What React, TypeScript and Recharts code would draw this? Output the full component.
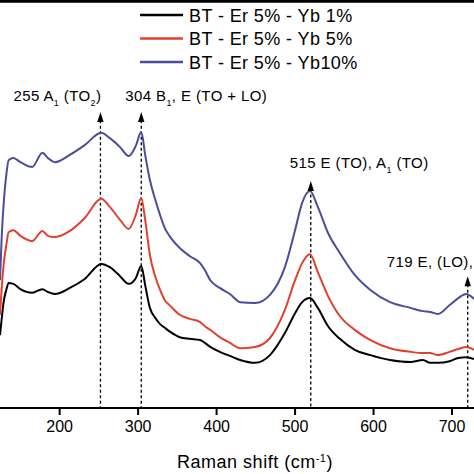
import { LineChart, Line, XAxis, YAxis, ReferenceLine, ReferenceDot, Legend } from 'recharts'

// Raman shift (cm-1), shared by all three spectra
const shifts = [
  124, 126, 129, 132, 135, 141, 150, 165, 178, 185, 194, 213, 232, 253, 264, 277, 288, 297, 304, 309,
  315, 322, 328, 334, 341, 353, 366, 379, 385, 392, 404, 417, 430, 449, 468, 487, 500, 509, 519, 529,
  542, 557, 576, 596, 621, 647, 663, 672, 682, 697, 708, 718, 728,
]

// intensity (a.u., offset stacked)
const yb1 = [
  17.9, 21.6, 26.5, 29.0, 30.7, 30.5, 29.2, 28.3, 29.2, 28.5, 28.0, 29.5, 31.7, 35.4, 34.6, 32.4, 30.5,
  31.9, 34.9, 30.2, 24.6, 22.1, 20.6, 19.7, 18.7, 17.4, 17.0, 16.7, 16.0, 15.0, 13.8, 12.8, 11.8, 11.1,
  13.0, 18.4, 23.3, 26.0, 27.0, 24.6, 20.1, 17.0, 14.3, 13.0, 11.8, 11.3, 11.8, 11.1, 11.1, 11.5, 12.3,
  12.5, 12.0,
]
const yb5 = [
  22.9, 29.0, 35.9, 40.0, 43.2, 43.7, 42.3, 41.0, 43.5, 42.3, 42.0, 43.5, 46.7, 51.4, 49.4, 46.2, 44.0,
  47.4, 51.6, 46.2, 37.6, 32.2, 29.0, 26.5, 25.1, 22.9, 21.9, 21.1, 20.1, 19.2, 17.4, 16.0, 14.7, 15.0,
  17.2, 24.1, 31.4, 35.6, 37.8, 33.4, 27.5, 22.6, 19.2, 16.7, 14.7, 13.8, 13.5, 13.5, 13.0, 13.8, 14.5,
  15.0, 14.3,
]
const yb10 = [
  31.4, 41.3, 51.1, 57.2, 60.9, 61.4, 60.4, 59.2, 62.7, 61.4, 60.4, 62.2, 64.6, 67.6, 66.3, 64.1, 61.9,
  64.4, 67.8, 62.2, 56.0, 51.1, 47.4, 44.2, 42.0, 39.3, 37.3, 35.6, 33.9, 31.4, 29.5, 28.0, 26.0, 25.8,
  27.8, 34.6, 43.7, 50.4, 53.3, 49.4, 43.0, 38.1, 32.7, 29.0, 26.0, 24.6, 23.8, 23.6, 23.1, 25.3, 27.0,
  28.0, 26.8,
]

const seriesNames = ['BT - Er 5% - Yb 1%', 'BT - Er 5% - Yb 5%', 'BT - Er 5% - Yb10%']
const seriesKeys = ['yb1', 'yb5', 'yb10']
const colors = ['#000000', '#e2402f', '#4b4c9c']

const xTicks = [200, 300, 400, 500, 600, 700]

// band markers: position, arrow tip height, label pieces (text, 'sub' for subscript)
const markerShifts = [252, 304, 520, 720]
const markerTips = [72.7, 72.7, 55.8, 32.4]
const markerTexts: [string, string][][] = [
  [['255 A', ''], ['1', 'sub'], [' (TO', ''], ['2', 'sub'], [')', '']],
  [['304 B', ''], ['1', 'sub'], [', E (TO + LO)', '']],
  [['515 E (TO), A', ''], ['1', 'sub'], [' (TO)', '']],
  [['719 E, (LO),', '']],
]
const labelOffsets = [
  { dx: -87, dy: -11 },
  { dx: -16, dy: -11 },
  { dx: -21, dy: -13 },
  { dx: -81, dy: -9 },
]

const data = shifts.map((s, i) => ({ shift: s, yb1: yb1[i], yb5: yb5[i], yb10: yb10[i] }))

const font = '"Liberation Sans", Arial, sans-serif'

function renderLegend() {
  return (
    <svg width={474} height={76} style={{ display: 'block' }}>
      {seriesNames.map((name, i) => {
        const y = 15 + i * 23.5
        return (
          <g key={name}>
            <line x1={140} x2={183} y1={y} y2={y} stroke={colors[i]} strokeWidth={2.5} />
            <text x={189} y={y + 6.5} fontSize={18} letterSpacing={0.4} fontFamily={font} fill="#000">
              {name}
            </text>
          </g>
        )
      })}
    </svg>
  )
}

function Marker(props: any, idx: number) {
  const { cx, cy } = props
  const off = labelOffsets[idx]
  return (
    <g>
      <path d={`M${cx},${cy} L${cx - 3.2},${cy + 10} L${cx + 3.2},${cy + 10} Z`} fill="#000" />
      <text
        x={cx + off.dx}
        y={cy + off.dy}
        fontSize={15}
        letterSpacing={0.4}
        fontFamily={font}
        fill="#000"
      >
        {markerTexts[idx].map(([t, k], j) =>
          k === 'sub' ? (
            <tspan key={j} baselineShift="sub" fontSize={9}>
              {t}
            </tspan>
          ) : (
            <tspan key={j}>{t}</tspan>
          ),
        )}
      </text>
    </g>
  )
}

function AxisTitle(props: any) {
  const { viewBox } = props
  const cx = viewBox.x + viewBox.width / 2 + 18
  return (
    <text
      x={cx}
      y={viewBox.y + 60}
      textAnchor="middle"
      fontSize={18}
      letterSpacing={0.5}
      fontFamily={font}
      fill="#000"
    >
      Raman shift (cm<tspan baselineShift="super" fontSize={11}>-1</tspan>)
    </text>
  )
}

export default function App() {
  return (
    <div style={{ position: 'absolute', left: 0, top: 0, width: 474, height: 474, background: '#fff' }}>
      <LineChart width={474} height={474} data={data} margin={{ top: 1, right: 0, bottom: 0, left: 0 }}>
        <XAxis
          dataKey="shift"
          type="number"
          domain={[124, 728]}
          ticks={xTicks}
          allowDataOverflow
          height={66}
          tickSize={7}
          tickMargin={6}
          tick={{ fill: '#000', fontSize: 16, fontFamily: font }}
          axisLine={{ stroke: '#000', strokeWidth: 2 }}
          tickLine={{ stroke: '#000', strokeWidth: 2 }}
          label={<AxisTitle />}
        />
        <YAxis hide domain={[0, 100]} />
        <ReferenceLine y={100} stroke="#000" strokeWidth={3.5} />
        {markerShifts.map((s, i) => (
          <ReferenceLine
            key={'l' + s}
            segment={[
              { x: s, y: markerTips[i] - 2 },
              { x: s, y: 0 },
            ]}
            stroke="#000"
            strokeWidth={1.3}
            strokeDasharray="3 2.5"
          />
        ))}
        {seriesKeys.map((k, i) => (
          <Line
            key={k}
            dataKey={k}
            name={seriesNames[i]}
            type="monotone"
            stroke={colors[i]}
            strokeWidth={2}
            dot={false}
            isAnimationActive={false}
          />
        ))}
        {markerShifts.map((s, i) => (
          <ReferenceDot key={'d' + s} x={s} y={markerTips[i]} r={0} shape={(p: any) => Marker(p, i)} />
        ))}
        <Legend
          verticalAlign="middle"
          align="center"
          layout="horizontal"
          content={renderLegend}
          wrapperStyle={{ position: 'absolute', top: 0, left: 0, width: 474 }}
        />
      </LineChart>
    </div>
  )
}
